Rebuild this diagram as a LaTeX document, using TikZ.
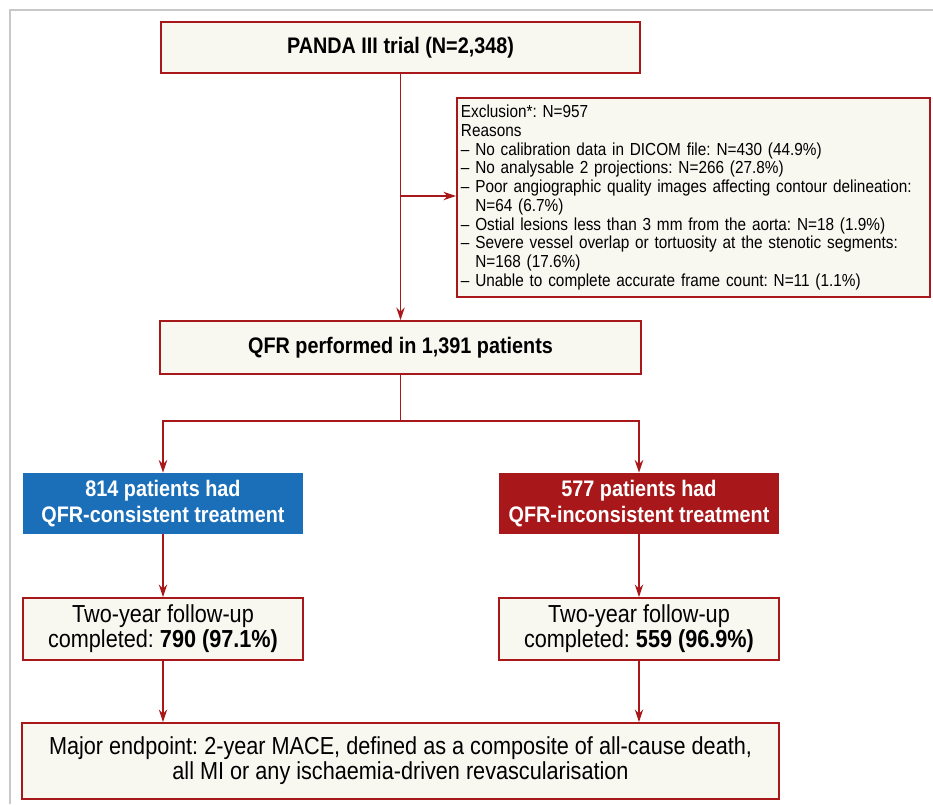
\documentclass[tikz,border=0pt]{standalone}
\usepackage{fontspec}
\setmainfont{Liberation Sans}[FakeStretch=0.88]
\usetikzlibrary{arrows.meta}
\definecolor{boxRed}{HTML}{A8181B}
\definecolor{boxCream}{HTML}{F8F7F0}
\definecolor{boxBlue}{HTML}{1B6FB9}
\definecolor{frameGray}{HTML}{C8C8C8}
\frenchspacing
\begin{document}
\begin{tikzpicture}[x=0.025cm,y=-0.025cm]
\tikzstyle{box}=[fill=boxCream,draw=boxRed,line width=1.3pt,inner sep=2pt,align=center]
\tikzstyle{boxBold}=[box,font=\fontsize{16}{19}\selectfont\bfseries]
\tikzstyle{boxPlain}=[box,font=\fontsize{17.5}{17.8}\selectfont]
\tikzstyle{boxGroup}=[draw=none,inner sep=2pt,align=center,text=white,font=\fontsize{16}{18.5}\selectfont\bfseries]
\tikzstyle{link}=[-{Stealth[length=9pt,width=6pt]},line width=1.3pt,color=boxRed]

\useasboundingbox (0,0) rectangle (933,804);
\draw[line width=1.2pt, color=frameGray] (10,804) -- (10,10) -- (933,10);

\node[boxBold, minimum width=11.975cm, minimum height=1.275cm] (trial) at (400.5,47.5) {PANDA III trial (N=2,348)};

\node[box, minimum width=11.825cm, minimum height=4.975cm, inner xsep=0.1cm, text width=11.625cm, align=left,
  font=\fontsize{12.4}{13.3}\selectfont] (exclusion) at (693.5,197.5) {Exclusion*: N=957\\
Reasons\\
– No calibration data in DICOM file: N=430 (44.9\%)\\
– No analysable 2 projections: N=266 (27.8\%)\\
– Poor angiographic quality images affecting contour delineation:\\
\phantom{– }N=64 (6.7\%)\\
– Ostial lesions less than 3 mm from the aorta: N=18 (1.9\%)\\
– Severe vessel overlap or tortuosity at the stenotic segments:\\
\phantom{– }N=168 (17.6\%)\\
– Unable to complete accurate frame count: N=11 (1.1\%)};

\node[boxBold, minimum width=12.025cm, minimum height=1.325cm] (qfr) at (400.5,347.5) {QFR performed in 1,391 patients};

\node[boxGroup, fill=boxBlue, minimum width=7cm, minimum height=1.525cm] (consistent) at (163,503.5) {814 patients had\\QFR-consistent treatment};
\node[boxGroup, fill=boxRed, minimum width=7cm, minimum height=1.525cm] (inconsistent) at (639,503.5) {577 patients had\\QFR-inconsistent treatment};

\node[boxPlain, minimum width=7cm, minimum height=1.55cm] (followA) at (163,629) {Two-year follow-up\\completed: \textbf{790 (97.1\%)}};
\node[boxPlain, minimum width=7cm, minimum height=1.55cm] (followB) at (639,629) {Two-year follow-up\\completed: \textbf{559 (96.9\%)}};

\node[boxPlain, minimum width=18.925cm, minimum height=1.9cm] (endpoint) at (400.5,761) {Major endpoint: 2-year MACE, defined as a composite of all-cause death,\\all MI or any ischaemia-driven revascularisation};

\coordinate (split) at (400.5,421);
\coordinate (exclSplit) at (400.5,196);

\draw[link] (trial) -- (qfr);
\draw[link] (exclSplit) -- (exclusion.west |- exclSplit);
\draw[line width=1.3pt, color=boxRed] (qfr) -- (split);
\draw[link] (split) -| (consistent);
\draw[link] (split) -| (inconsistent);
\draw[link] (consistent) -- (followA);
\draw[link] (inconsistent) -- (followB);
\draw[link] (followA) -- (followA |- endpoint.north);
\draw[link] (followB) -- (followB |- endpoint.north);

\end{tikzpicture}
\end{document}
